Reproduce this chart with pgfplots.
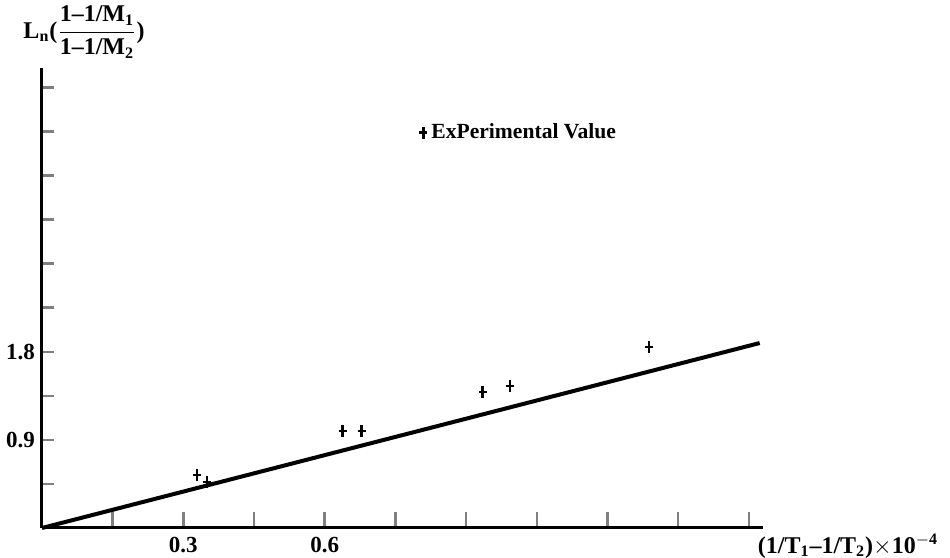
\documentclass[border=0pt]{standalone}
\usepackage{fontspec}
\setmainfont{Liberation Serif}
\usepackage{pgfplots}
\pgfplotsset{compat=1.18}
\begin{document}
\begin{tikzpicture}[x=1pt,y=1pt]
\useasboundingbox (-21,-15) rectangle (454,264);
\begin{axis}[
  scale only axis, width=360.5pt, height=230pt,
  at={(0,0)}, anchor=south west,
  xmin=0, xmax=1.53, ymin=0, ymax=4.7,
  axis x line=bottom, axis y line=left,
  axis line style={line width=1.5pt,-},
  tick align=inside,
  xtick={0.15,0.3,0.45,0.6,0.75,0.9,1.05,1.2,1.35,1.5},
  xticklabels={,0.3,,0.6,,,,,,},
  ytick={0.45,0.9,1.35,1.8,2.25,2.7,3.15,3.6,4.05,4.5},
  yticklabels={,0.9,,1.8,,,,,,},
  xtick style={line width=1.3pt, /pgfplots/major tick length=8pt},
  ytick style={line width=1.3pt, /pgfplots/major tick length=6pt},
  /pgf/number format/assume math mode=true,
  ticklabel style={font=\fontsize{11.5}{12}\selectfont\bfseries},
  xticklabel style={yshift=-1pt},
  legend style={at={(axis cs:0.8,4.04)}, anchor=west, draw=none, fill=none,
    font=\fontsize{10.8}{12}\selectfont\bfseries, inner sep=0pt},
  legend cell align=left,
  legend image code/.code={\draw[mark repeat=2,mark phase=2,#1] plot coordinates {(0cm,0cm)(0.1cm,0cm)(0.2cm,0cm)};},
  clip=false,
]
\addplot[only marks, mark=+, mark size=2pt, mark options={line width=1.2pt, yscale=1.5}] coordinates {
  (0.329,0.54) (0.35,0.47) (0.638,0.99) (0.678,0.99) (0.935,1.39) (0.993,1.45) (1.288,1.85)
};
\addlegendentry{ExPerimental Value}
\addplot[forget plot, line width=2pt] coordinates {(0,0) (1.523,1.89)};
\end{axis}
\node[font=\fontsize{12}{14}\selectfont\bfseries] at (21,248) {L$_{\mathbf{n}}$($\displaystyle\frac{\textbf{1--1/M}_{\mathbf{1}}}{\textbf{1--1/M}_{\mathbf{2}}}$)};
\node[font=\fontsize{12}{14}\selectfont\bfseries] at (403,-9) {(1/T$_{\mathbf{1}}$--1/T$_{\mathbf{2}}$)$\times$10$^{\mathbf{-4}}$};
\end{tikzpicture}
\end{document}
